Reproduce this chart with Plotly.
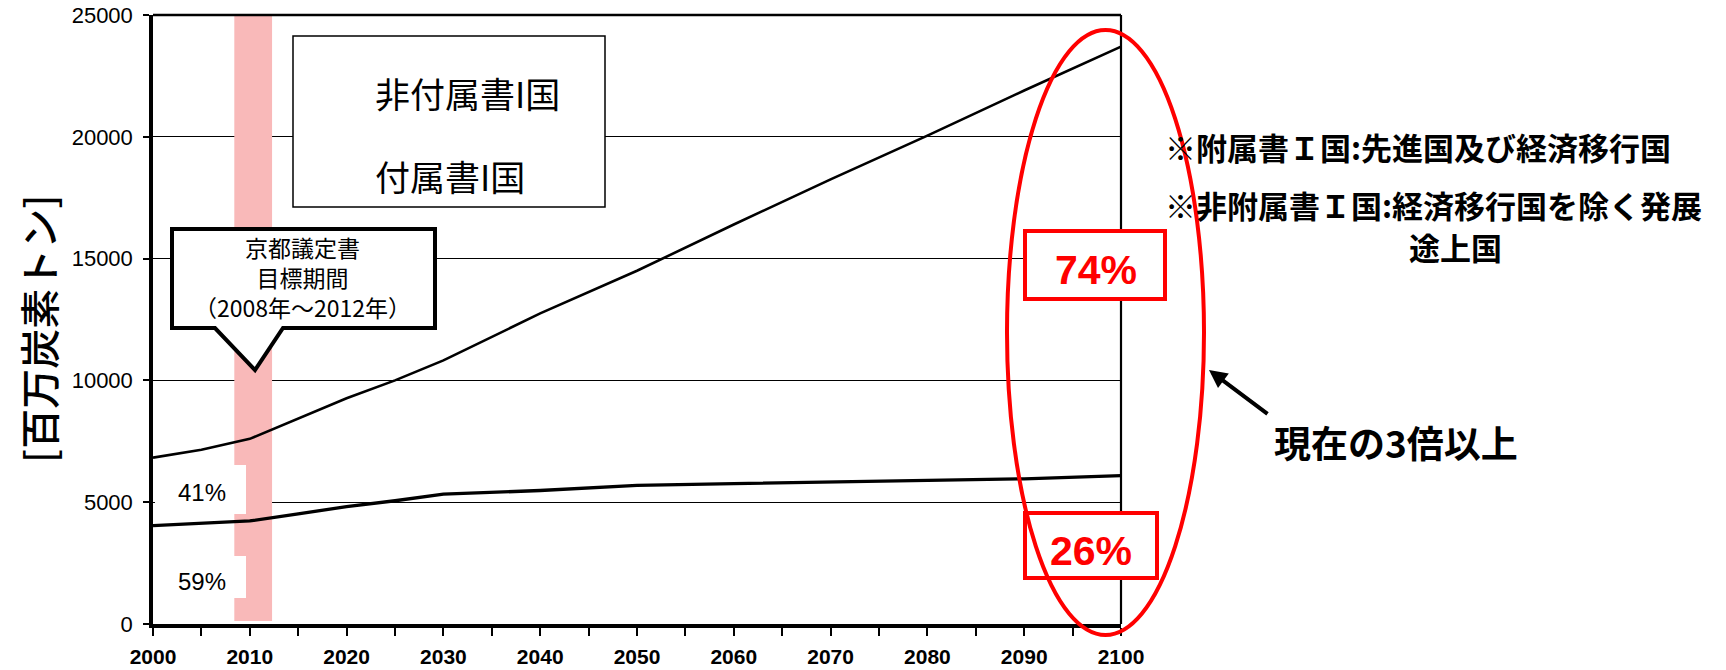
import plotly.graph_objects as go

# ---- data ----
years = [2000, 2005, 2010, 2015, 2020, 2025, 2030, 2040, 2050, 2060, 2070, 2080, 2090, 2100]
non_annex_i = [6830, 7150, 7600, 8450, 9270, 10000, 10820, 12750, 14500, 16400, 18250, 20050, 21900, 23700]
annex_i = [4040, 4120, 4230, 4520, 4820, 5060, 5330, 5480, 5690, 5760, 5830, 5890, 5960, 6090]

x_tickvals = list(range(2000, 2101, 5))
x_ticktext = [str(v) if v % 10 == 0 else "" for v in x_tickvals]
y_tickvals = [0, 5000, 10000, 15000, 20000, 25000]
y_ticktext = ["0", "5000", "10000", "15000", "20000", "25000"]

kyoto_start, kyoto_end = 2008.4, 2012.3
share_start = ["41%", "59%"]
share_end = ["74%", "26%"]

W, H = 1726, 670
L, R, T, B = 153, 1121, 15, 624


def px(x):
    return (x - L) / (R - L)


def py(y):
    return (B - y) / (B - T)


def dx(x):
    return 2000 + (x - L) / (R - L) * 100


def dy(y):
    return (B - y) / (B - T) * 25000


JP = "Noto Sans CJK JP"
AR = "Arial, Liberation Sans, sans-serif"

fig = go.Figure()
fig.add_trace(go.Scatter(x=years, y=non_annex_i, mode="lines",
                         line=dict(color="black", width=2.6), name="非付属書I国"))
fig.add_trace(go.Scatter(x=years, y=annex_i, mode="lines",
                         line=dict(color="black", width=3.3), name="付属書I国"))

shapes = []
# Kyoto band
shapes.append(dict(type="rect", xref="x", yref="y", x0=kyoto_start, x1=kyoto_end, y0=dy(621), y1=25000,
                   fillcolor="#F9B9B9", line=dict(width=0), layer="between"))
# white boxes behind 41% / 59%
shapes.append(dict(type="rect", xref="x", yref="y", x0=dx(155), x1=dx(246), y0=dy(514), y1=dy(465),
                   fillcolor="white", line=dict(width=0), layer="between"))
shapes.append(dict(type="rect", xref="x", yref="y", x0=dx(155), x1=dx(246), y0=dy(598), y1=dy(556),
                   fillcolor="white", line=dict(width=0), layer="between"))
# top & right border
shapes.append(dict(type="line", xref="paper", yref="paper", x0=0, x1=1, y0=1, y1=1,
                   line=dict(color="black", width=2.6), layer="above"))
shapes.append(dict(type="line", xref="paper", yref="paper", x0=1, x1=1, y0=0, y1=1,
                   line=dict(color="black", width=2.2), layer="above"))
# legend box
shapes.append(dict(type="rect", xref="paper", yref="paper", x0=px(293), x1=px(605), y0=py(207), y1=py(36),
                   fillcolor="white", line=dict(color="black", width=1.5), layer="above"))
# callout
pts = [(172, 229), (435, 229), (435, 328), (283, 328), (255, 370), (215, 328), (172, 328)]
path = "M " + " L ".join(f"{px(a):.5f},{py(b):.5f}" for a, b in pts) + " Z"
shapes.append(dict(type="path", xref="paper", yref="paper", path=path,
                   fillcolor="white", line=dict(color="black", width=4), layer="above"))
# red boxes
shapes.append(dict(type="rect", xref="paper", yref="paper", x0=px(1025), x1=px(1165), y0=py(299), y1=py(231),
                   fillcolor="white", line=dict(color="#FF0000", width=4), layer="above"))
shapes.append(dict(type="rect", xref="paper", yref="paper", x0=px(1025), x1=px(1157), y0=py(578), y1=py(513),
                   fillcolor="white", line=dict(color="#FF0000", width=4), layer="above"))
# red ellipse
shapes.append(dict(type="circle", xref="paper", yref="paper", x0=px(1007), x1=px(1204), y0=py(635), y1=py(30),
                   line=dict(color="#FF0000", width=4), layer="above"))

ann = []
# y axis title
ann.append(dict(xref="paper", yref="paper", x=px(38), y=py(329), text="[百万炭素トン]", textangle=-90,
                showarrow=False, font=dict(family=JP, size=40, color="black", weight=500),
                xanchor="center", yanchor="middle"))
# legend texts
ann.append(dict(xref="paper", yref="paper", x=px(373), y=py(93), text="非付属書I国", showarrow=False,
                font=dict(family=JP, size=35, color="black"), xanchor="left", yanchor="middle"))
ann.append(dict(xref="paper", yref="paper", x=px(373), y=py(175), text="付属書I国", showarrow=False,
                font=dict(family=JP, size=35, color="black"), xanchor="left", yanchor="middle"))
# callout text
ann.append(dict(xref="paper", yref="paper", x=px(302), y=py(277),
                text="京都議定書<br>目標期間<br>（2008年～2012年）", showarrow=False, align="center",
                font=dict(family=JP, size=23, color="black"), xanchor="center", yanchor="middle"))
# shares at 2010
ann.append(dict(xref="paper", yref="paper", x=px(202), y=py(492), text=share_start[0], showarrow=False,
                font=dict(family=AR, size=24, color="black"), xanchor="center", yanchor="middle"))
ann.append(dict(xref="paper", yref="paper", x=px(202), y=py(581), text=share_start[1], showarrow=False,
                font=dict(family=AR, size=24, color="black"), xanchor="center", yanchor="middle"))
# shares at 2100
ann.append(dict(xref="paper", yref="paper", x=px(1096), y=py(270), text="<b>" + share_end[0] + "</b>", showarrow=False,
                font=dict(family=AR, size=41, color="#FF0000"), xanchor="center", yanchor="middle"))
ann.append(dict(xref="paper", yref="paper", x=px(1091), y=py(551), text="<b>" + share_end[1] + "</b>", showarrow=False,
                font=dict(family=AR, size=41, color="#FF0000"), xanchor="center", yanchor="middle"))
# notes
ann.append(dict(xref="paper", yref="paper", x=px(1163), y=py(147), text="※附属書Ｉ国:先進国及び経済移行国", showarrow=False,
                font=dict(family=JP, size=31, color="black", weight="bold"), xanchor="left", yanchor="middle"))
ann.append(dict(xref="paper", yref="paper", x=px(1163), y=py(205), text="※非附属書Ｉ国:経済移行国を除く発展", showarrow=False,
                font=dict(family=JP, size=31, color="black", weight="bold"), xanchor="left", yanchor="middle"))
ann.append(dict(xref="paper", yref="paper", x=px(1407), y=py(246), text="途上国", showarrow=False,
                font=dict(family=JP, size=31, color="black", weight="bold"), xanchor="left", yanchor="middle"))
# arrow + text
ann.append(dict(xref="paper", yref="paper", x=px(1209), y=py(370), text="", showarrow=True,
                ax=60, ay=45, arrowhead=2, arrowsize=0.9, arrowwidth=4, arrowcolor="black"))
ann.append(dict(xref="paper", yref="paper", x=px(1272), y=py(442), text="現在の3倍以上", showarrow=False,
                font=dict(family=JP, size=37, color="black", weight="bold"), xanchor="left", yanchor="middle"))

fig.update_layout(
    width=W, height=H,
    margin=dict(l=L, r=W - R, t=T, b=H - B, pad=0, autoexpand=False),
    paper_bgcolor="white", plot_bgcolor="white",
    showlegend=False,
    shapes=shapes, annotations=ann,
    xaxis=dict(range=[2000, 2100], tickmode="array", tickvals=x_tickvals, ticktext=x_ticktext,
               ticks="outside", ticklen=8, tickwidth=2, tickcolor="black", automargin=False,
               showline=True, linecolor="black", linewidth=3.5, showgrid=False, zeroline=False,
               tickfont=dict(family=AR, size=21, color="black", weight="bold"), ticklabelstandoff=3),
    yaxis=dict(range=[0, 25000], tickmode="array", tickvals=y_tickvals, ticktext=y_ticktext,
               ticks="outside", ticklen=6, tickwidth=2, tickcolor="black", automargin=False,
               showline=True, linecolor="black", linewidth=3.5, showgrid=True, gridcolor="black", gridwidth=1,
               zeroline=False, tickfont=dict(family=AR, size=22, color="black"), ticklabelstandoff=6),
)

fig.write_html("out.html")
